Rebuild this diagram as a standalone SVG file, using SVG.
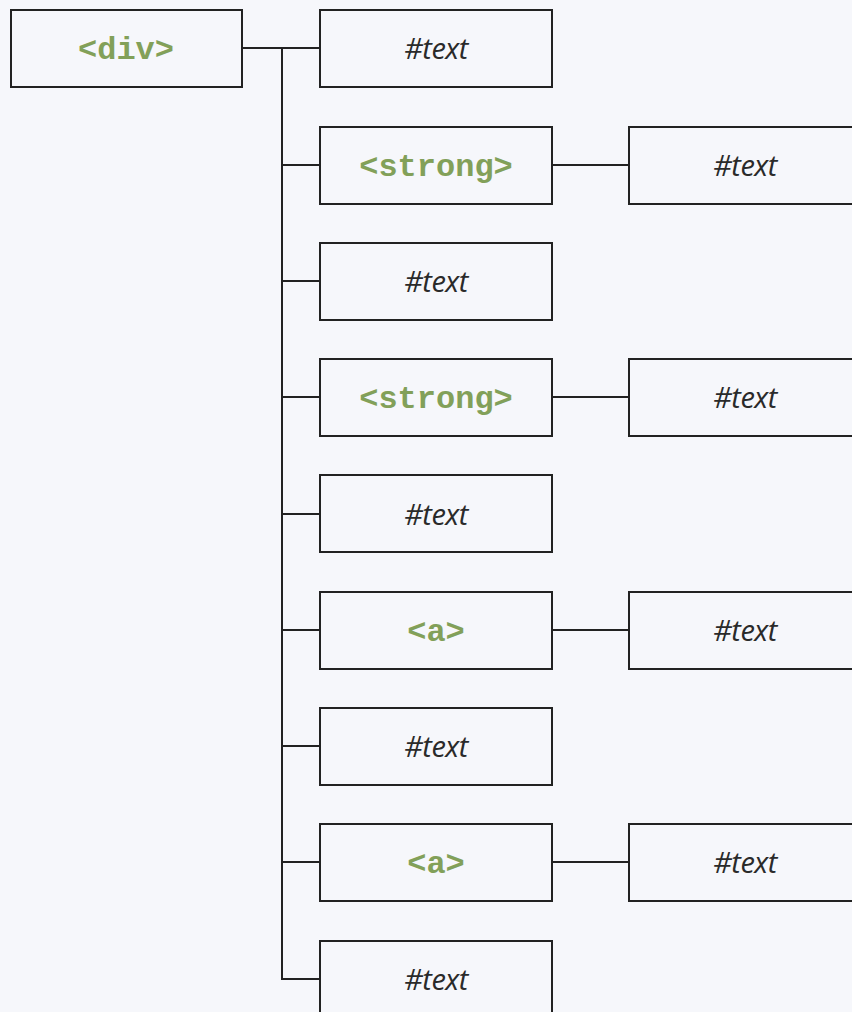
<svg xmlns="http://www.w3.org/2000/svg" width="852" height="1012" viewBox="0 0 852 1012">
<style>
.bg{fill:#f6f7fb}
.box{fill:#f6f7fb;stroke:#222;stroke-width:2}
.tag{font-family:"Courier New","Liberation Mono",monospace;font-weight:bold;font-size:32px;fill:#82a059;text-anchor:middle}
.txt{font-family:"Open Sans","Noto Sans",sans-serif;font-style:italic;font-size:29px;fill:#2a2a2a;text-anchor:middle;letter-spacing:-0.5px}
.ln{fill:none;stroke:#222;stroke-width:2}
</style>
<rect class="bg" x="0" y="0" width="852" height="1012"/>
<g id="connectors">
<path class="ln" d="M242 48H320"/>
<path class="ln" d="M282 48V979H320"/>
<path class="ln" d="M282 165H320"/>
<path class="ln" d="M282 281H320"/>
<path class="ln" d="M282 397H320"/>
<path class="ln" d="M282 514H320"/>
<path class="ln" d="M282 630H320"/>
<path class="ln" d="M282 746H320"/>
<path class="ln" d="M282 862H320"/>
<path class="ln" d="M552 165H629"/>
<path class="ln" d="M552 397H629"/>
<path class="ln" d="M552 630H629"/>
<path class="ln" d="M552 862H629"/>
</g>
<g id="n-div"><rect class="box" x="11" y="10" width="231" height="77"/><text class="tag" x="126" y="59">&lt;div&gt;</text></g>
<g id="n-text1"><rect class="box" x="320" y="10" width="232" height="77"/><text class="txt" x="436" y="59">#text</text></g>
<g id="n-strong1"><rect class="box" x="320" y="127" width="232" height="77"/><text class="tag" x="436" y="176">&lt;strong&gt;</text></g>
<g id="n-strong1-text"><rect class="box" x="629" y="127" width="232" height="77"/><text class="txt" x="745" y="176">#text</text></g>
<g id="n-text2"><rect class="box" x="320" y="243" width="232" height="77"/><text class="txt" x="436" y="292">#text</text></g>
<g id="n-strong2"><rect class="box" x="320" y="359" width="232" height="77"/><text class="tag" x="436" y="408">&lt;strong&gt;</text></g>
<g id="n-strong2-text"><rect class="box" x="629" y="359" width="232" height="77"/><text class="txt" x="745" y="408">#text</text></g>
<g id="n-text3"><rect class="box" x="320" y="475" width="232" height="77"/><text class="txt" x="436" y="525">#text</text></g>
<g id="n-a1"><rect class="box" x="320" y="592" width="232" height="77"/><text class="tag" x="436" y="641">&lt;a&gt;</text></g>
<g id="n-a1-text"><rect class="box" x="629" y="592" width="232" height="77"/><text class="txt" x="745" y="641">#text</text></g>
<g id="n-text4"><rect class="box" x="320" y="708" width="232" height="77"/><text class="txt" x="436" y="757">#text</text></g>
<g id="n-a2"><rect class="box" x="320" y="824" width="232" height="77"/><text class="tag" x="436" y="873">&lt;a&gt;</text></g>
<g id="n-a2-text"><rect class="box" x="629" y="824" width="232" height="77"/><text class="txt" x="745" y="873">#text</text></g>
<g id="n-text5"><rect class="box" x="320" y="941" width="232" height="77"/><text class="txt" x="436" y="990">#text</text></g>
</svg>
